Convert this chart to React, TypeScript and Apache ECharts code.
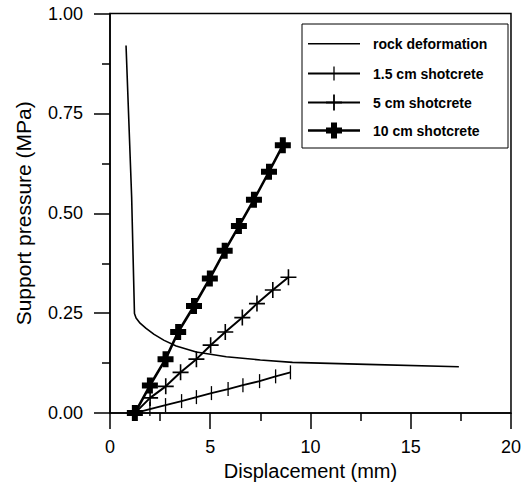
import React, { useEffect, useRef } from "react";
import * as echarts from "echarts";

// ---- data ----
const seriesNames = ["rock deformation", "1.5 cm shotcrete", "5 cm shotcrete", "10 cm shotcrete"];

const rockX = [0.8, 1.08, 1.22, 1.3, 1.5, 1.8, 2.2, 2.7, 3.3, 4.3, 5.8, 7.5, 9.1, 12.8, 17.4];
const rockY = [0.92, 0.54, 0.249, 0.238, 0.225, 0.212, 0.197, 0.182, 0.168, 0.153, 0.141, 0.133, 0.127, 0.122, 0.116];

const sc15X = [1.24, 1.99, 2.77, 3.57, 4.31, 5.06, 5.89, 6.63, 7.46, 8.26, 9.0];
const sc15Y = [0, 0.01, 0.02, 0.03, 0.04, 0.05, 0.06, 0.07, 0.08, 0.092, 0.102];

const sc5X = [1.24, 2.0, 2.78, 3.52, 4.31, 5.02, 5.75, 6.6, 7.33, 8.12, 8.9];
const sc5Y = [0, 0.038, 0.067, 0.102, 0.135, 0.17, 0.203, 0.239, 0.274, 0.308, 0.34];

const sc10X = [1.24, 1.99, 2.77, 3.4, 4.19, 4.98, 5.72, 6.43, 7.18, 7.93, 8.62];
const sc10Y = [0, 0.069, 0.135, 0.203, 0.268, 0.337, 0.406, 0.468, 0.534, 0.604, 0.67];

const xTicks = { min: 0, max: 20, interval: 5 };
const yTicks = { min: 0, max: 1, interval: 0.25 };

const zip = (xs: number[], ys: number[]) => xs.map((x, i) => [x, ys[i]]);

const FONT = '"Liberation Sans", Arial, Helvetica, sans-serif';

const SYM_THICK_PLUS = "path://M5,0H11V5H16V11H11V16H5V11H0V5H5Z";
const SYM_THIN_PLUS = "path://M7.2,0H8.8V7.2H16V8.8H8.8V16H7.2V8.8H0V7.2H7.2Z";
const SYM_TICK = "path://M0,0H1V14H0Z";

function legendGraphic() {
  const left = 302;
  const top = 24;
  const rows = [43.7, 73.5, 102.5, 130.5];
  const lx1 = 308;
  const lx2 = 360;
  const cx = 334;
  const els: any[] = [
    {
      type: "rect",
      shape: { x: left, y: top, width: 206, height: 124 },
      style: { fill: "#fff", stroke: "#000", lineWidth: 1 },
      z: 10,
    },
  ];
  const widths = [1.6, 1.8, 2, 2.4];
  rows.forEach((cy, i) => {
    els.push({
      type: "line",
      shape: { x1: lx1, y1: cy, x2: lx2, y2: cy },
      style: { stroke: "#000", lineWidth: widths[i] },
      z: 11,
    });
    if (i === 1) {
      els.push({
        type: "line",
        shape: { x1: cx, y1: cy - 7, x2: cx, y2: cy + 7 },
        style: { stroke: "#000", lineWidth: 1.3 },
        z: 11,
      });
    } else if (i === 2) {
      els.push({
        type: "line",
        shape: { x1: cx, y1: cy - 8, x2: cx, y2: cy + 8 },
        style: { stroke: "#000", lineWidth: 1.8 },
        z: 11,
      });
      els.push({
        type: "line",
        shape: { x1: cx - 8, y1: cy, x2: cx + 8, y2: cy },
        style: { stroke: "#000", lineWidth: 1.8 },
        z: 11,
      });
    } else if (i === 3) {
      const a = 3;
      const b = 8;
      els.push({
        type: "polygon",
        shape: {
          points: [
            [cx - a, cy - b], [cx + a, cy - b], [cx + a, cy - a], [cx + b, cy - a],
            [cx + b, cy + a], [cx + a, cy + a], [cx + a, cy + b], [cx - a, cy + b],
            [cx - a, cy + a], [cx - b, cy + a], [cx - b, cy - a], [cx - a, cy - a],
          ],
        },
        style: { fill: "#000" },
        z: 11,
      });
    }
    els.push({
      type: "text",
      x: 373,
      y: cy,
      style: {
        text: seriesNames[i],
        fill: "#000",
        fontSize: 14,
        fontWeight: "bold",
        fontFamily: FONT,
        verticalAlign: "middle",
        align: "left",
      },
      z: 11,
    });
  });
  return els;
}

export default function App() {
  const ref = useRef<HTMLDivElement>(null);
  useEffect(() => {
    if (!ref.current) return;
    const chart = echarts.init(ref.current, undefined, { renderer: "svg" });
    const axisCommon = {
      axisLine: { show: true, lineStyle: { color: "#000", width: 1.5 } },
      axisTick: { show: true, inside: false, length: 16, lineStyle: { color: "#000", width: 1.5 } },
      minorTick: { show: true, splitNumber: 2, length: 8, lineStyle: { color: "#000", width: 1.5 } },
      splitLine: { show: false },
      minorSplitLine: { show: false },
      nameLocation: "middle" as const,
    };
    chart.setOption({
      animation: false,
      backgroundColor: "#fff",
      grid: {
        left: 110,
        right: 12,
        top: 13.5,
        bottom: 69,
        show: true,
        borderColor: "#000",
        borderWidth: 1.5,
        backgroundColor: "transparent",
      },
      xAxis: {
        type: "value",
        ...axisCommon,
        min: xTicks.min,
        max: xTicks.max,
        interval: xTicks.interval,
        name: "Displacement (mm)",
        nameGap: 38,
        nameTextStyle: { color: "#000", fontSize: 20, fontFamily: FONT },
        axisLabel: { color: "#000", fontSize: 18, fontFamily: FONT, margin: 25 },
      },
      yAxis: {
        type: "value",
        ...axisCommon,
        min: yTicks.min,
        max: yTicks.max,
        interval: yTicks.interval,
        name: "Support pressure (MPa)",
        nameGap: 76,
        nameTextStyle: { color: "#000", fontSize: 21, fontFamily: FONT },
        axisLabel: {
          color: "#000",
          fontSize: 18,
          fontFamily: FONT,
          margin: 27,
          formatter: (v: number) => v.toFixed(2),
        },
      },
      series: [
        {
          name: seriesNames[0],
          type: "line",
          data: zip(rockX, rockY),
          symbol: "none",
          lineStyle: { color: "#000", width: 1.6 },
        },
        {
          name: seriesNames[1],
          type: "line",
          data: zip(sc15X, sc15Y),
          symbol: SYM_TICK,
          symbolSize: [1.3, 14],
          showSymbol: true,
          itemStyle: { color: "#000", borderWidth: 0 },
          lineStyle: { color: "#000", width: 1.8 },
        },
        {
          name: seriesNames[2],
          type: "line",
          data: zip(sc5X, sc5Y),
          symbol: SYM_THIN_PLUS,
          symbolSize: 16,
          showSymbol: true,
          itemStyle: { color: "#000", borderWidth: 0 },
          lineStyle: { color: "#000", width: 2 },
        },
        {
          name: seriesNames[3],
          type: "line",
          data: zip(sc10X, sc10Y),
          symbol: SYM_THICK_PLUS,
          symbolSize: 16,
          showSymbol: true,
          itemStyle: { color: "#000", borderWidth: 0 },
          lineStyle: { color: "#000", width: 2.6 },
        },
      ],
      graphic: legendGraphic(),
    });
    return () => chart.dispose();
  }, []);
  return <div ref={ref} style={{ width: 524, height: 486, position: "absolute", left: 0, top: 0 }} />;
}
